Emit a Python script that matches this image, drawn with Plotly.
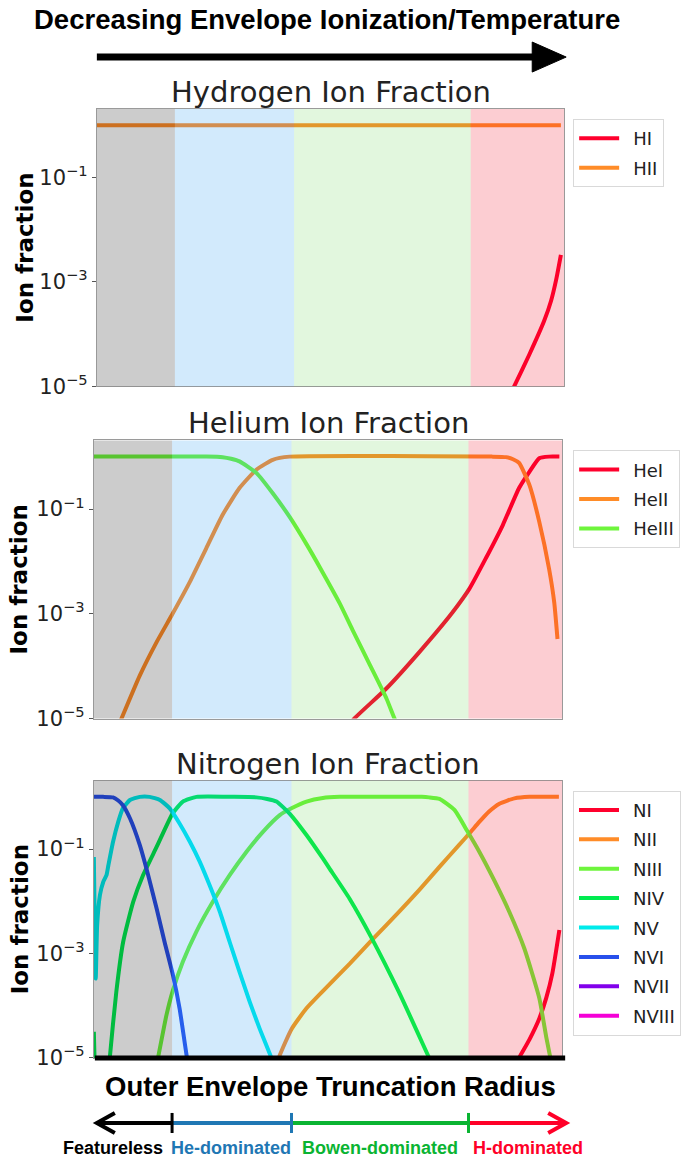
import numpy as np
import plotly.graph_objects as go

# ---------------------------------------------------------------------------
# Data: log10 ion fractions versus normalised outer-envelope truncation radius
# ---------------------------------------------------------------------------
REGIME_EDGES = [0.0, 0.167, 0.422, 0.80, 1.0]
REGIME_NAMES = ["Featureless", "He-dominated", "Bowen-dominated", "H-dominated"]

# Hydrogen
h_i_x = [0.872, 0.893, 0.925, 0.957, 0.972, 0.983, 0.993]
h_i_log = [-5.4, -5.0, -4.4, -3.75, -3.36, -2.95, -2.48]
h_ii_x = [0.0, 0.993]
h_ii_log = [0.0, 0.0]

# Helium
he_i_x = [0.53, 0.556, 0.624, 0.695, 0.766, 0.802, 0.837, 0.873, 0.908, 0.930, 0.951, 0.972, 0.994]
he_i_log = [-5.3, -5.0, -4.43, -3.73, -2.97, -2.52, -1.94, -1.31, -0.60, -0.29, -0.03, 0.0, 0.0]
he_ii_x = [0.045, 0.059, 0.098, 0.134, 0.168, 0.205, 0.240, 0.275, 0.311, 0.347, 0.382, 0.418,
           0.85, 0.880, 0.895, 0.908, 0.930, 0.951, 0.972, 0.983, 0.990]
he_ii_log = [-5.3, -5.0, -4.18, -3.54, -3.0, -2.39, -1.75, -1.11, -0.60, -0.25, -0.06, 0.0,
             0.0, -0.01, -0.05, -0.12, -0.54, -1.24, -2.14, -2.78, -3.48]
he_iii_x = [0.0, 0.24, 0.275, 0.293, 0.311, 0.348, 0.382, 0.418, 0.454, 0.488, 0.525, 0.552,
            0.588, 0.625, 0.642, 0.652]
he_iii_log = [0.0, 0.0, -0.01, -0.04, -0.09, -0.32, -0.70, -1.15, -1.67, -2.2, -2.8, -3.3,
              -3.95, -4.62, -5.0, -5.2]

# Nitrogen
n_i_x = [0.891, 0.908, 0.930, 0.951, 0.966, 0.979, 0.994]
n_i_log = [-5.3, -5.0, -4.65, -4.25, -3.85, -3.38, -2.55]
n_ii_x = [0.386, 0.397, 0.422, 0.454, 0.489, 0.546, 0.593, 0.652, 0.695, 0.738, 0.780, 0.802,
          0.823, 0.844, 0.866, 0.898, 0.930, 0.993]
n_ii_log = [-5.3, -4.95, -4.45, -4.05, -3.72, -3.2, -2.75, -2.2, -1.78, -1.34, -0.92, -0.7,
            -0.48, -0.28, -0.13, -0.03, 0.0, 0.0]
n_iii_x = [0.130, 0.137, 0.155, 0.168, 0.190, 0.219, 0.254, 0.290, 0.326, 0.361, 0.397, 0.422,
           0.454, 0.489, 0.525, 0.700, 0.716, 0.738, 0.770, 0.797, 0.823, 0.855, 0.887, 0.919,
           0.951, 0.966, 0.977]
n_iii_log = [-5.3, -5.0, -4.18, -3.73, -3.16, -2.58, -2.01, -1.50, -1.05, -0.67, -0.35, -0.22,
             -0.09, -0.02, 0.0, 0.0, -0.01, -0.04, -0.25, -0.65, -1.05, -1.6, -2.2, -2.9,
             -3.85, -4.6, -5.1]
n_iv_x = [0.0, 0.0085, 0.030, 0.034, 0.048, 0.0625, 0.084, 0.105, 0.134, 0.168, 0.190, 0.219,
          0.300, 0.347, 0.370, 0.390, 0.418, 0.454, 0.489, 0.503, 0.546, 0.593, 0.652, 0.716,
          0.729]
n_iv_log = [-4.5, -6.0, -5.6, -5.0, -3.73, -2.78, -2.01, -1.50, -0.96, -0.32, -0.09, 0.0,
            0.0, -0.01, -0.04, -0.09, -0.32, -0.73, -1.18, -1.37, -1.95, -2.7, -3.75, -5.0,
            -5.25]
n_v_x = [0.0, 0.004, 0.007, 0.013, 0.020, 0.027, 0.031, 0.041, 0.052, 0.062, 0.077, 0.098,
         0.119, 0.141, 0.162, 0.183, 0.205, 0.226, 0.247, 0.269, 0.290, 0.311, 0.333, 0.354,
         0.379, 0.386]
n_v_log = [-1.15, -3.48, -2.46, -1.88, -1.63, -1.50, -1.31, -0.86, -0.48, -0.22, -0.06, 0.0,
           0.0, -0.06, -0.22, -0.51, -0.86, -1.24, -1.69, -2.20, -2.78, -3.35, -3.93, -4.44,
           -5.0, -5.2]
n_vi_x = [0.0, 0.020, 0.041, 0.052, 0.062, 0.077, 0.098, 0.116, 0.134, 0.151, 0.169, 0.183,
          0.198, 0.205]
n_vi_log = [0.0, 0.0, -0.01, -0.07, -0.16, -0.41, -0.92, -1.50, -2.14, -2.78, -3.42, -4.05,
            -4.95, -5.3]
n_vii_x = [0.0, 0.05, 0.10]
n_vii_log = [-5.5, -6.5, -8.0]
n_viii_x = [0.0, 0.05]
n_viii_log = [-7.0, -9.0]

ION_COLORS = ["rgb(255,0,45)", "rgb(255,140,40)", "rgb(110,245,60)", "rgb(0,235,80)",
              "rgb(0,235,235)", "rgb(40,80,235)", "rgb(130,0,235)", "rgb(245,0,215)"]

PANELS = [
    dict(title="Hydrogen Ion Fraction",
         ions=[("HI", h_i_x, h_i_log), ("HII", h_ii_x, h_ii_log)]),
    dict(title="Helium Ion Fraction",
         ions=[("HeI", he_i_x, he_i_log), ("HeII", he_ii_x, he_ii_log),
               ("HeIII", he_iii_x, he_iii_log)]),
    dict(title="Nitrogen Ion Fraction",
         ions=[("NI", n_i_x, n_i_log), ("NII", n_ii_x, n_ii_log), ("NIII", n_iii_x, n_iii_log),
               ("NIV", n_iv_x, n_iv_log), ("NV", n_v_x, n_v_log), ("NVI", n_vi_x, n_vi_log),
               ("NVII", n_vii_x, n_vii_log), ("NVIII", n_viii_x, n_viii_log)]),
]

# ---------------------------------------------------------------------------
# Layout geometry: positions given on a 681 x 1161 design grid
# ---------------------------------------------------------------------------
W, H = 681, 1161
FIG_H = 1174
BOXES = [((97, 565), (109, 386)), ((94, 563), (440, 718)), ((94, 563), (780, 1057))]
REGIME_FILLS = ["rgba(0,0,0,0.20)", "rgba(30,150,240,0.20)",
                "rgba(85,205,60,0.17)", "rgba(240,5,30,0.20)"]
ARROW_COLORS = ["black", "rgb(31,119,180)", "rgb(10,180,50)", "rgb(255,0,40)"]


def fx(p):
    return p / W


def fy(p):
    return 1 - p / H


def label(text, x, y, size, color, family="DejaVu Sans", angle=0):
    return dict(text=text, x=fx(x), y=fy(y), xref="paper", yref="paper", showarrow=False,
                xanchor="center", yanchor="middle", textangle=angle,
                font=dict(family=family, size=size, color=color))


fig = go.Figure()
shapes, annotations = [], []
layout = dict(width=W, height=FIG_H, margin=dict(l=0, r=0, t=0, b=0, pad=0), autosize=False,
              plot_bgcolor="white", paper_bgcolor="white", showlegend=True)

for k, (panel, ((x0, x1), (y0, y1))) in enumerate(zip(PANELS, BOXES)):
    n = "" if k == 0 else str(k + 1)
    xa, ya = "x" + n, "y" + n
    for j, (name, xs, logs) in enumerate(panel["ions"]):
        fig.add_trace(go.Scatter(
            x=xs, y=10 ** np.array(logs), mode="lines", name="\u2002" + name,
            line=dict(color=ION_COLORS[j], width=4, shape="spline", smoothing=0.5),
            xaxis=xa, yaxis=ya, legend="legend" + n, legendgroup=f"{k}-{name}",
            hoverinfo="skip"))
    axis_line = dict(showline=True, linecolor="#9a9a9a", linewidth=1, mirror=True,
                     showgrid=False, zeroline=False)
    layout["xaxis" + n] = dict(domain=[fx(x0), fx(x1)], range=[0, 1], anchor=ya,
                               showticklabels=False, ticks="", **axis_line)
    layout["yaxis" + n] = dict(
        domain=[fy(y1), fy(y0)], type="log", range=[-5, 0.31], anchor=xa,
        tickvals=[1e-5, 1e-3, 1e-1],
        ticktext=["10<sup>\u22125</sup>", "10<sup>\u22123</sup>", "10<sup>\u22121</sup>"],
        ticks="outside", ticklen=4, tickcolor="#555",
        tickfont=dict(family="DejaVu Sans", size=21, color="#222"), **axis_line)
    layout["legend" + n] = dict(
        x=fx(574), y=fy(y0 + 10), xanchor="left", yanchor="top", bgcolor="white",
        bordercolor="#d9d9d9", borderwidth=1, tracegroupgap=3, itemwidth=40,
        font=dict(family="DejaVu Sans", size=18, color="#222"))

    # regime shading over the curves
    for r in range(4):
        shapes.append(dict(type="rect", xref=xa, yref=ya + " domain",
                           x0=REGIME_EDGES[r], x1=REGIME_EDGES[r + 1], y0=0, y1=1,
                           fillcolor=REGIME_FILLS[r], line=dict(width=0), layer="above"))

    annotations.append(label(panel["title"], (x0 + x1) / 2, y0 - 17, 29, "#222"))
    annotations.append(label("<b>Ion fraction</b>", 25 if k == 0 else 20, (y0 + y1) / 2,
                             23, "black", angle=-90))

# thick baseline under the nitrogen panel
shapes.append(dict(type="line", xref="paper", yref="paper", x0=fx(95), x1=fx(566),
                   y0=fy(1057), y1=fy(1057), line=dict(color="black", width=5)))

# top arrow
shapes.append(dict(type="line", xref="paper", yref="paper", x0=fx(97), x1=fx(536),
                   y0=fy(57), y1=fy(57), line=dict(color="black", width=7)))
shapes.append(dict(type="path", xref="paper", yref="paper",
                   path=f"M {fx(533)} {fy(42)} L {fx(567)} {fy(57)} L {fx(533)} {fy(72)} Z",
                   fillcolor="black", line=dict(color="black", width=1)))
annotations.append(label("<b>Decreasing Envelope Ionization/Temperature</b>", 327, 19,
                         27.5, "black", family="Liberation Sans"))

# bottom regime arrow
ay = 1122
px0, px1 = BOXES[2][0]
edges_px = [px0 + e * (px1 - px0) for e in REGIME_EDGES]
edges_px[0], edges_px[-1] = 97, 567
for r in range(4):
    shapes.append(dict(type="line", xref="paper", yref="paper",
                       x0=fx(edges_px[r]), x1=fx(edges_px[r + 1]), y0=fy(ay), y1=fy(ay),
                       line=dict(color=ARROW_COLORS[r], width=4)))
for r in range(1, 4):
    shapes.append(dict(type="line", xref="paper", yref="paper",
                       x0=fx(edges_px[r]), x1=fx(edges_px[r]), y0=fy(ay - 10), y1=fy(ay + 10),
                       line=dict(color=ARROW_COLORS[r - 1], width=3)))
shapes.append(dict(type="path", xref="paper", yref="paper",
                   path=f"M {fx(115)} {fy(ay - 10)} L {fx(97)} {fy(ay)} L {fx(115)} {fy(ay + 10)}",
                   line=dict(color="black", width=4)))
shapes.append(dict(type="path", xref="paper", yref="paper",
                   path=f"M {fx(549)} {fy(ay - 10)} L {fx(567)} {fy(ay)} L {fx(549)} {fy(ay + 10)}",
                   line=dict(color=ARROW_COLORS[3], width=4)))

annotations.append(label("<b>Outer Envelope Truncation Radius</b>", 331, 1086, 27.5, "black",
                         family="Liberation Sans"))
label_centres = [113, 231, 381, 529]
for name, cx, col in zip(REGIME_NAMES, label_centres, ARROW_COLORS):
    annotations.append(label(f"<b>{name}</b>", cx, 1147, 18, col, family="Liberation Sans"))

layout["shapes"] = shapes
layout["annotations"] = annotations
fig.update_layout(**layout)
fig.write_html("out.html")
